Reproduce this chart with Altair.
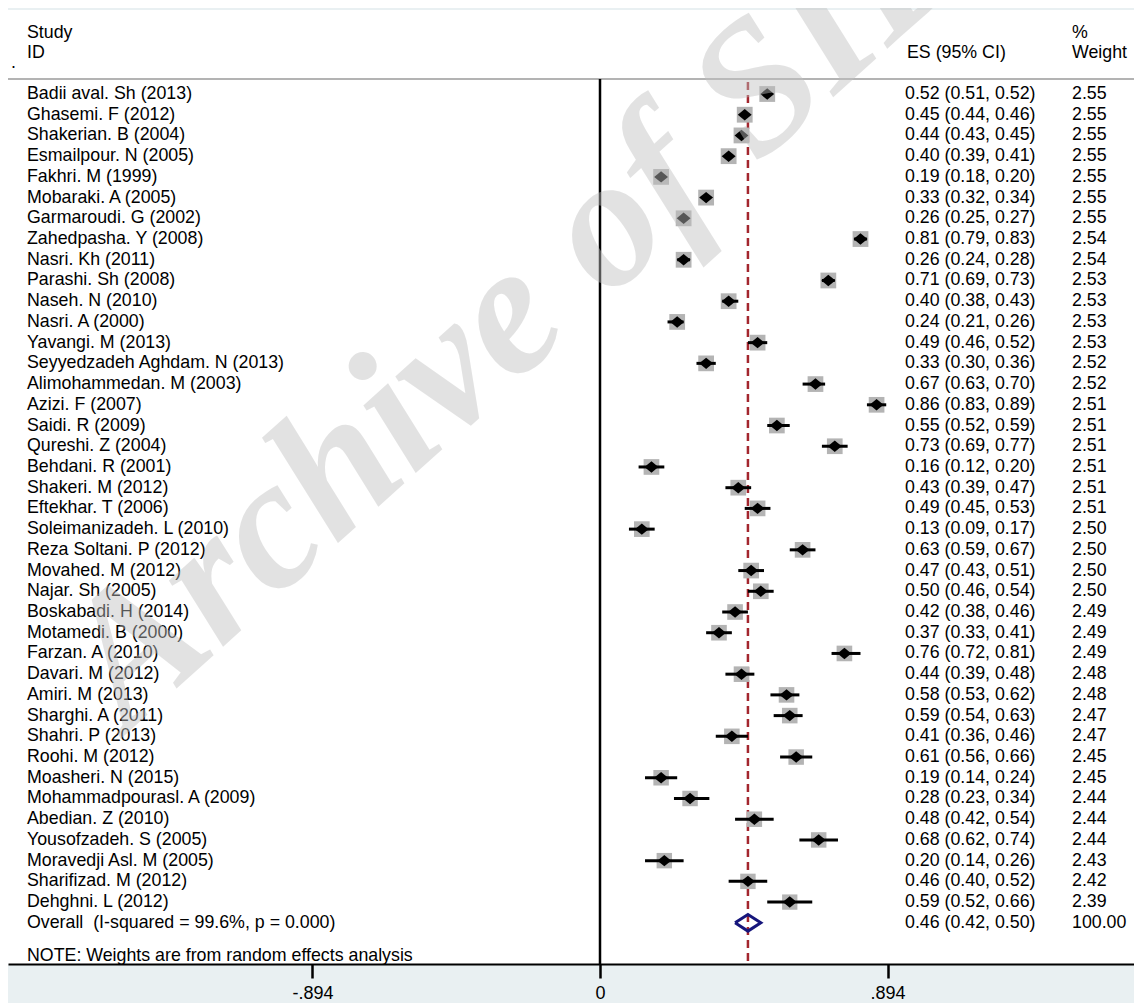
import altair as alt
import pandas as pd

# ---------------- data ----------------
STUDIES = [
    "Badii aval. Sh (2013)", "Ghasemi. F (2012)", "Shakerian. B (2004)", "Esmailpour. N (2005)",
    "Fakhri. M (1999)", "Mobaraki. A (2005)", "Garmaroudi. G (2002)", "Zahedpasha. Y (2008)",
    "Nasri. Kh (2011)", "Parashi. Sh (2008)", "Naseh. N (2010)", "Nasri. A (2000)",
    "Yavangi. M (2013)", "Seyyedzadeh Aghdam. N (2013)", "Alimohammedan. M (2003)", "Azizi. F (2007)",
    "Saidi. R (2009)", "Qureshi. Z (2004)", "Behdani. R (2001)", "Shakeri. M (2012)",
    "Eftekhar. T (2006)", "Soleimanizadeh. L (2010)", "Reza Soltani. P (2012)", "Movahed. M (2012)",
    "Najar. Sh (2005)", "Boskabadi. H (2014)", "Motamedi. B (2000)", "Farzan. A (2010)",
    "Davari. M (2012)", "Amiri. M (2013)", "Sharghi. A (2011)", "Shahri. P (2013)",
    "Roohi. M (2012)", "Moasheri. N (2015)", "Mohammadpourasl. A (2009)", "Abedian. Z (2010)",
    "Yousofzadeh. S (2005)", "Moravedji Asl. M (2005)", "Sharifizad. M (2012)", "Dehghni. L (2012)",
]
ES = [0.52, 0.45, 0.44, 0.40, 0.19, 0.33, 0.26, 0.81, 0.26, 0.71, 0.40, 0.24, 0.49, 0.33, 0.67, 0.86,
      0.55, 0.73, 0.16, 0.43, 0.49, 0.13, 0.63, 0.47, 0.50, 0.42, 0.37, 0.76, 0.44, 0.58, 0.59, 0.41,
      0.61, 0.19, 0.28, 0.48, 0.68, 0.20, 0.46, 0.59]
LO = [0.51, 0.44, 0.43, 0.39, 0.18, 0.32, 0.25, 0.79, 0.24, 0.69, 0.38, 0.21, 0.46, 0.30, 0.63, 0.83,
      0.52, 0.69, 0.12, 0.39, 0.45, 0.09, 0.59, 0.43, 0.46, 0.38, 0.33, 0.72, 0.39, 0.53, 0.54, 0.36,
      0.56, 0.14, 0.23, 0.42, 0.62, 0.14, 0.40, 0.52]
HI = [0.52, 0.46, 0.45, 0.41, 0.20, 0.34, 0.27, 0.83, 0.28, 0.73, 0.43, 0.26, 0.52, 0.36, 0.70, 0.89,
      0.59, 0.77, 0.20, 0.47, 0.53, 0.17, 0.67, 0.51, 0.54, 0.46, 0.41, 0.81, 0.48, 0.62, 0.63, 0.46,
      0.66, 0.24, 0.34, 0.54, 0.74, 0.26, 0.52, 0.66]
WEIGHT = [2.55, 2.55, 2.55, 2.55, 2.55, 2.55, 2.55, 2.54, 2.54, 2.53, 2.53, 2.53, 2.53, 2.52, 2.52, 2.51,
          2.51, 2.51, 2.51, 2.51, 2.51, 2.50, 2.50, 2.50, 2.50, 2.49, 2.49, 2.49, 2.48, 2.48, 2.47, 2.47,
          2.45, 2.45, 2.44, 2.44, 2.44, 2.43, 2.42, 2.39]

OVERALL_LABEL = "Overall\u00a0 (I-squared = 99.6%, p = 0.000)"
OVERALL_ES, OVERALL_LO, OVERALL_HI = 0.46, 0.42, 0.50
OVERALL_WEIGHT = 100.00
NOTE = "NOTE: Weights are from random effects analysis"
TICK_VALUES = [-0.894, 0.0, 0.894]
TICK_LABELS = ["-.894", "0", ".894"]
WATERMARK = "Archive of SID"

# ---------------- tables ----------------
n = len(STUDIES)
studies = pd.DataFrame({
    "row": list(range(n)), "label": STUDIES, "es": ES, "lo": LO, "hi": HI, "weight": WEIGHT,
})
studies["es_text"] = [f"{e:.2f} ({l:.2f}, {h:.2f})" for e, l, h in zip(ES, LO, HI)]
studies["w_text"] = [f"{w:.2f}" for w in WEIGHT]

overall_row = n
texts = pd.concat([
    studies[["row", "label", "es_text", "w_text"]],
    pd.DataFrame({"row": [overall_row], "label": [OVERALL_LABEL],
                  "es_text": [f"{OVERALL_ES:.2f} ({OVERALL_LO:.2f}, {OVERALL_HI:.2f})"],
                  "w_text": [f"{OVERALL_WEIGHT:.2f}"]}),
], ignore_index=True)

half_h = 0.4
diamond = pd.DataFrame({
    "x": [OVERALL_LO, OVERALL_ES, OVERALL_HI, OVERALL_ES, OVERALL_LO],
    "y": [overall_row, overall_row - half_h, overall_row, overall_row + half_h, overall_row],
    "o": [0, 1, 2, 3, 4],
})
overall_df = pd.DataFrame({"es": [OVERALL_ES], "zero": [0.0]})
note_df = pd.DataFrame({"row": [overall_row + 1.6], "label": [NOTE]})
wm_df = pd.DataFrame({"t": [WATERMARK]})

# ---------------- scales ----------------
W, H = 1126, 954
XS = alt.Scale(domain=[-1.84080, 1.66045], nice=False, zero=False, padding=0)
YS = alt.Scale(domain=[-4.0541, 41.988], nice=False, zero=False, reverse=True, padding=0)
FONT = "Liberation Sans"
FS = 17.8

label_expr = ""
for v, l in zip(TICK_VALUES, TICK_LABELS):
    label_expr += f"abs(datum.value - ({v})) < 0.000001 ? '{l}' : "
label_expr += "''"

x_axis = alt.Axis(values=TICK_VALUES, labelExpr=label_expr, title=None, grid=False,
                  domainColor="black", domainWidth=2, tickColor="black", tickWidth=2.5,
                  tickSize=14, labelFontSize=18, labelFont=FONT, labelColor="black",
                  labelPadding=6, labelFlush=False, labelOverlap=False)


def xq(field):
    return alt.X(field, type="quantitative", scale=XS, axis=x_axis)


def yq(field):
    return alt.Y(field, type="quantitative", scale=YS, axis=None)


# separator under header
sep = alt.Chart(wm_df).mark_rule(color="#b3b3b3", strokeWidth=2).encode(
    x=alt.value(-1), x2=alt.value(W), y=alt.value(69))

# null line at 0
null_line = alt.Chart(overall_df).mark_rule(color="black", strokeWidth=2.5).encode(
    x=xq("zero"), y=alt.value(69), y2=alt.value(H))

# overall effect dashed line
eff_line = alt.Chart(overall_df).mark_rule(color="#a3262e", strokeWidth=2.5, strokeDash=[8, 5]).encode(
    x=xq("es"), y=alt.value(72), y2=alt.value(H))

boxes = alt.Chart(studies).mark_square(color="#b4b4b4", opacity=1).encode(
    x=xq("es"), y=yq("row"),
    size=alt.Size("weight:Q", scale=alt.Scale(type="linear", domain=[0, 2.55], range=[0, 250]), legend=None),
)

ci = alt.Chart(studies).mark_rule(color="black", strokeWidth=3).encode(
    x=xq("lo"), x2="hi:Q", y=yq("row"),
)

pts = alt.Chart(studies).mark_point(
    shape="M-1.15,0L0,-0.95L1.15,0L0,0.95Z", filled=True, color="black", opacity=1, size=145
).encode(x=xq("es"), y=yq("row"))

dia = alt.Chart(diamond).mark_line(color="#16167c", strokeWidth=3, strokeJoin="miter").encode(
    x=xq("x"), y=yq("y"), order="o:Q",
)


def col_text(df, field, x):
    return alt.Chart(df).mark_text(align="left", baseline="middle", font=FONT, fontSize=FS,
                                   color="black").encode(x=alt.value(x), y=yq("row"), text=f"{field}:N")


lbl = col_text(texts, "label", 19)
es_txt = col_text(texts, "es_text", 897)
w_txt = col_text(texts, "w_text", 1064)
note = col_text(note_df, "label", 19)


def header(txt, x, y, baseline="middle"):
    return alt.Chart(wm_df).mark_text(align="left", baseline=baseline, font=FONT, fontSize=FS,
                                      color="black", text=txt).encode(x=alt.value(x), y=alt.value(y))


headers = [
    header("Study", 19, 23), header("ID", 19, 43), header(".", 3, 58, "alphabetic"),
    header("ES (95% CI)", 899, 43), header("%", 1064, 23), header("Weight", 1064, 43),
]

wm = alt.Chart(wm_df).mark_text(
    font="Liberation Serif", fontStyle="italic", fontWeight="bold", fontSize=186,
    color="#c1c1c1", opacity=0.45, align="center", baseline="alphabetic", angle=318,
).encode(x=alt.value(550), y=alt.value(335), text="t:N")

chart = alt.layer(
    sep, null_line, eff_line, boxes, ci, pts, dia, lbl, es_txt, w_txt, note, *headers, wm
).properties(
    width=W, height=H,
    autosize=alt.AutoSizeParams(type="none"),
    padding={"left": 0, "top": 2, "right": 0, "bottom": 39},
    background="#e9f0f2",
).configure_view(fill="white", strokeWidth=0)

chart.save("out.html", embed_options={"renderer": "svg", "actions": False})
